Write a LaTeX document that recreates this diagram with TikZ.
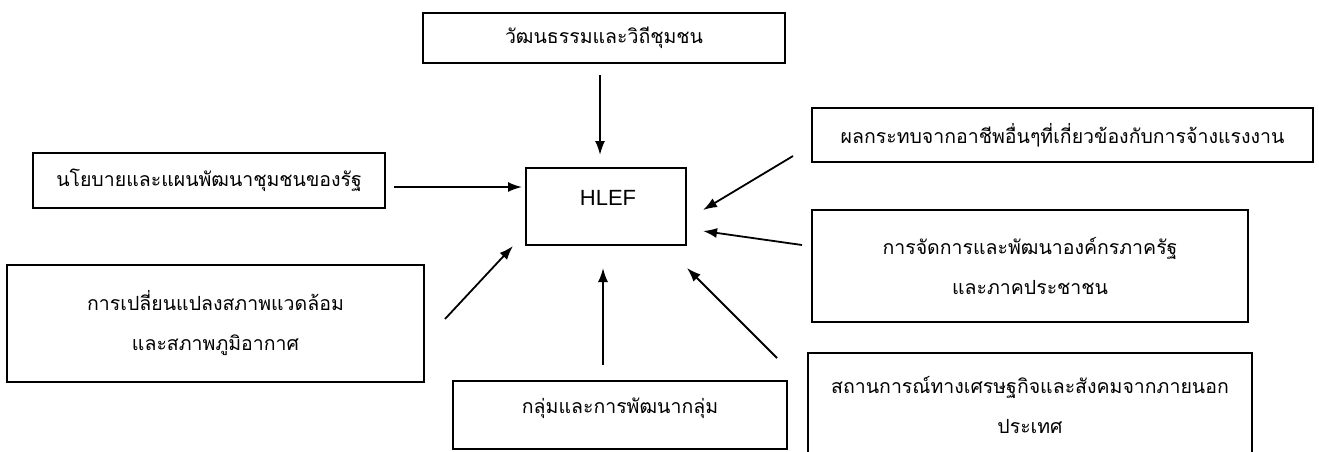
\documentclass[tikz,border=0pt]{standalone}
\usepackage{fontspec}
\setmainfont{Liberation Sans}
\newfontfamily\thai[Script=Thai]{Loma}
\usetikzlibrary{arrows.meta}
\tikzset{
  box/.style={draw=black, line width=1.6pt, inner sep=0pt, outer sep=0pt, align=center,
    font=\thai\fontsize{19.5}{40}\selectfont},
  arr/.style={line width=1.8pt, -{Latex[length=14pt,width=10pt]}},
}
\begin{document}
\begin{tikzpicture}[x=1pt,y=-1pt]
\useasboundingbox (0,0) rectangle (1319,451);
\node[box, minimum width=362, minimum height=50] (top) at (604,38) {วัฒนธรรมและวิถีชุมชน};
\node[box, minimum width=352, minimum height=55] (left) at (209,180.5) {นโยบายและแผนพัฒนาชุมชนของรัฐ};
\node[box, minimum width=501, minimum height=54] (ur) at (1062.5,135) {ผลกระทบจากอาชีพอื่นๆที่เกี่ยวข้องกับการจ้างแรงงาน};
\node[box, minimum width=436, minimum height=112] (mr) at (1030,266) {การจัดการและพัฒนาองค์กรภาครัฐ\\และภาคประชาชน};
\node[box, minimum width=417, minimum height=117] (lb) at (215.5,323.5) {การเปลี่ยนแปลงสภาพแวดล้อม\\และสภาพภูมิอากาศ};
\node[box, minimum width=334, minimum height=68, text depth=18pt] (bc) at (620,415) {กลุ่มและการพัฒนากลุ่ม};
\node[box, minimum width=444, minimum height=103] (br) at (1030,404.5) {สถานการณ์ทางเศรษฐกิจและสังคมจากภายนอก\\ประเทศ};
\node[box, minimum width=160, minimum height=77] (hlef) at (606,206.5) {};
\node[font=\fontsize{22}{24}\selectfont, inner sep=0pt] (hlefText) at (608,198) {HLEF};
% connector end points
\coordinate (t1) at (600,75);  \coordinate (t2) at (600,155);
\coordinate (l1) at (394,187); \coordinate (l2) at (522,187);
\coordinate (lb1) at (445,319); \coordinate (lb2) at (513,246);
\coordinate (b1) at (603,365); \coordinate (b2) at (603,268);
\coordinate (br1) at (777,358); \coordinate (br2) at (687,268);
\coordinate (mr1) at (802,245); \coordinate (mr2) at (703,231);
\coordinate (ur1) at (793,156); \coordinate (ur2) at (703,210);
\draw[arr] (t1) -- (t2);
\draw[arr] (l1) -- (l2);
\draw[arr] (lb1) -- (lb2);
\draw[arr] (b1) -- (b2);
\draw[arr] (br1) -- (br2);
\draw[arr] (mr1) -- (mr2);
\draw[arr] (ur1) -- (ur2);
\end{tikzpicture}
\end{document}
